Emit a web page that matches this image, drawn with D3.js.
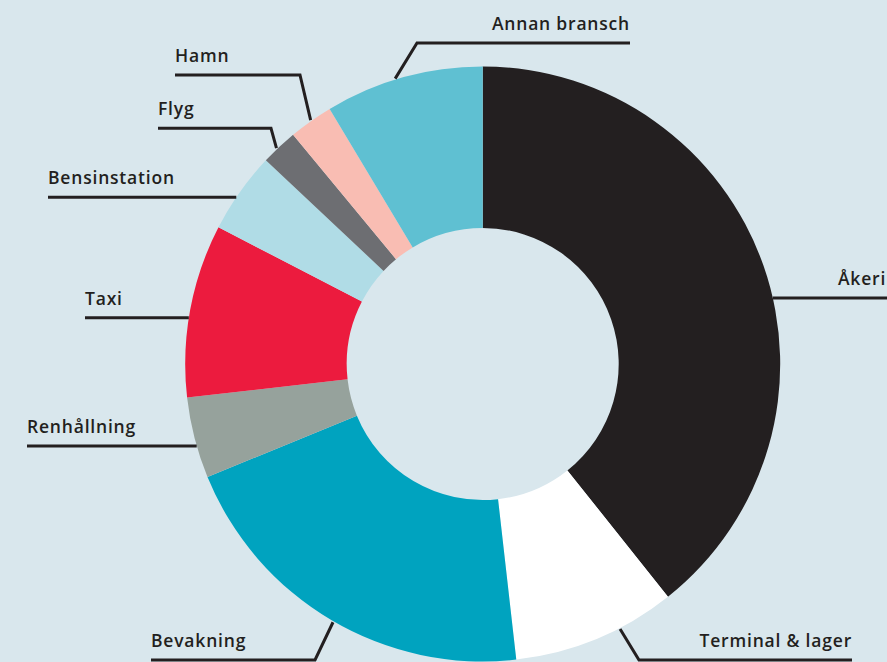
<!DOCTYPE html>
<html>
<head>
<meta charset="utf-8">
<script src="https://cdn.jsdelivr.net/npm/d3@7"></script>
<style>
  html, body { margin: 0; padding: 0; background: #d9e7ed; overflow: hidden; }
  svg { display: block; }
  text { font-family: "Open Sans", Lato, sans-serif; font-weight: 600; fill: #231f20; letter-spacing: 0.8px; }
</style>
</head>
<body>
<div id="chart"></div>
<script>
// data, clockwise from 12 o'clock
var categories = ["Åkeri", "Terminal & lager", "Bevakning", "Renhållning", "Taxi", "Bensinstation", "Flyg", "Hamn", "Annan bransch"];
var shares = [39.3, 8.9, 20.6, 4.4, 9.4, 4.4, 2.0, 2.4, 8.6];
var colors = ["#231f20", "#ffffff", "#00a3bf", "#96a29c", "#ec1b3e", "#b0dce6", "#6d6e72", "#f9bdb3", "#5fc0d2"];

var width = 887, height = 662;
var cx = 482.7, cy = 364;
var rOuter = 297.5, rInner = 136;

var svg = d3.select("#chart")
  .append("svg")
    .attr("width", width)
    .attr("height", height);

var g = svg.append("g")
  .attr("transform", "translate(" + cx + "," + cy + ")");

var pie = d3.pie().sort(null).value(function(d) { return d; });
var arc = d3.arc().innerRadius(rInner).outerRadius(rOuter);

g.selectAll("path.slice")
  .data(pie(shares))
  .enter().append("path")
    .attr("class", "slice")
    .attr("d", arc)
    .attr("fill", function(d, i) { return colors[i]; });

// label layout: line y, line start/end x, text anchor, and either the
// angle where the leader meets the ring (elbow leaders) or the side (flat)
var labels = [
  {name: "Åkeri",           lineY: 298,   x0: null, x1: 887, tx: 838,  anchor: "start", side: 1},
  {name: "Terminal & lager", lineY: 660,  x0: 639,  x1: 852, tx: 852,  anchor: "end",   angle: 152.6},
  {name: "Bevakning",       lineY: 660,   x0: 151,  x1: 315, tx: 151,  anchor: "start", angle: 210.1},
  {name: "Renhållning",     lineY: 446,   x0: 27,   x1: null, tx: 27,  anchor: "start", side: -1},
  {name: "Taxi",            lineY: 317.7, x0: 85,   x1: null, tx: 85,  anchor: "start", side: -1},
  {name: "Bensinstation",   lineY: 197.3, x0: 48,   x1: null, tx: 48,  anchor: "start", side: -1},
  {name: "Flyg",            lineY: 128.3, x0: 158,  x1: 271,  tx: 158, anchor: "start", angle: 316.3},
  {name: "Hamn",            lineY: 75,    x0: 175,  x1: 300,  tx: 175, anchor: "start", angle: 324.8},
  {name: "Annan bransch",   lineY: 43,    x0: 417,  x1: 630,  tx: 630, anchor: "end",   angle: 342.95}
];

function ringPoint(deg, r) {
  var a = deg * Math.PI / 180;
  return [cx + r * Math.sin(a), cy - r * Math.cos(a)];
}

var line = d3.line();

labels.forEach(function(l) {
  var pts;
  if (l.angle !== undefined) {
    var p = ringPoint(l.angle, rOuter + 1);
    // elbow at the end of the underline nearest the ring
    var elbowX = Math.abs(p[0] - l.x0) < Math.abs(p[0] - l.x1) ? l.x0 : l.x1;
    var farX = elbowX === l.x0 ? l.x1 : l.x0;
    pts = [[farX, l.lineY], [elbowX, l.lineY], p];
  } else {
    var dy = l.lineY - cy;
    var edgeX = cx + l.side * Math.sqrt(rOuter * rOuter - dy * dy);
    if (l.side > 0) pts = [[edgeX, l.lineY], [l.x1, l.lineY]];
    else pts = [[l.x0, l.lineY], [edgeX, l.lineY]];
  }
  svg.append("path")
    .attr("d", line(pts))
    .attr("fill", "none")
    .attr("stroke", "#231f20")
    .attr("stroke-width", 3)
    .attr("stroke-linejoin", "miter");

  svg.append("text")
    .attr("x", l.tx)
    .attr("y", l.lineY - 13)
    .attr("text-anchor", l.anchor)
    .style("font-size", "17.5px")
    .text(l.name);
});
</script>
</body>
</html>
